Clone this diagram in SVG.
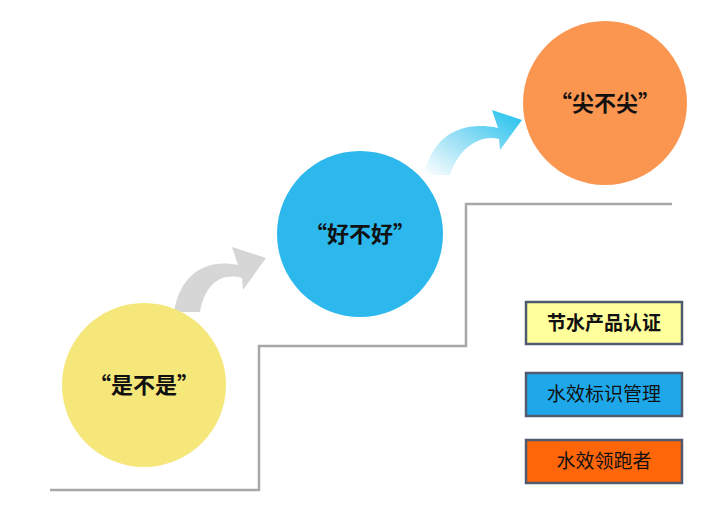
<svg xmlns="http://www.w3.org/2000/svg" width="705" height="506" viewBox="0 0 705 506">
<style>
.q{font-family:"Noto Sans CJK SC","Noto Sans",sans-serif;font-size:22px;font-weight:bold;fill:#111;text-anchor:middle}
.b{font-family:"Noto Sans CJK SC",sans-serif;font-size:19px;fill:#111;text-anchor:middle}
.box{stroke:#4f5b6e;stroke-width:2.5}
</style>
<defs>
<linearGradient id="g1" x1="0" y1="1" x2="1" y2="0">
<stop offset="0" stop-color="#ffffff"/><stop offset="0.5" stop-color="#8fdcf4"/><stop offset="1" stop-color="#1ec0ee"/>
</linearGradient>
</defs>
<rect width="705" height="506" fill="#fff"/>
<g id="connectors">
<polyline points="50,490 259,490 259,346 466,346 466,204 672,204" fill="none" stroke="#a8a8a8" stroke-width="2.5"/>
<path d="M174,312 C180,275 205,258 238,265 L232,247 L266,258 L243,290 L242,278 C220,272 205,285 200,312 Z" fill="#d6d6d6"/>
<path d="M424,175 C432,137 460,120 498,128 L492,110 L522,120 L500,150 L499,139 C478,134 458,150 450,175 Z" fill="url(#g1)"/>
</g>
<g id="n1"><circle cx="144" cy="385" r="82" fill="#f5e779"/><text class="q" x="144" y="393">“是不是”</text></g>
<g id="n2"><circle cx="360" cy="234" r="83" fill="#2cb8ec"/><text class="q" x="360" y="242">“好不好”</text></g>
<g id="n3"><circle cx="605" cy="103" r="82" fill="#fb9650"/><text class="q" x="605" y="111">“尖不尖”</text></g>
<g id="legend1"><rect class="box" x="526" y="302" width="156" height="42" fill="#ffff9c"/><text class="b" x="604" y="330" font-weight="bold">节水产品认证</text></g>
<g id="legend2"><rect class="box" x="526" y="373" width="156" height="43" fill="#1ea8ea"/><text class="b" x="604" y="401">水效标识管理</text></g>
<g id="legend3"><rect class="box" x="526" y="440" width="156" height="43" fill="#ff660a"/><text class="b" x="604" y="468">水效领跑者</text></g>
</svg>
